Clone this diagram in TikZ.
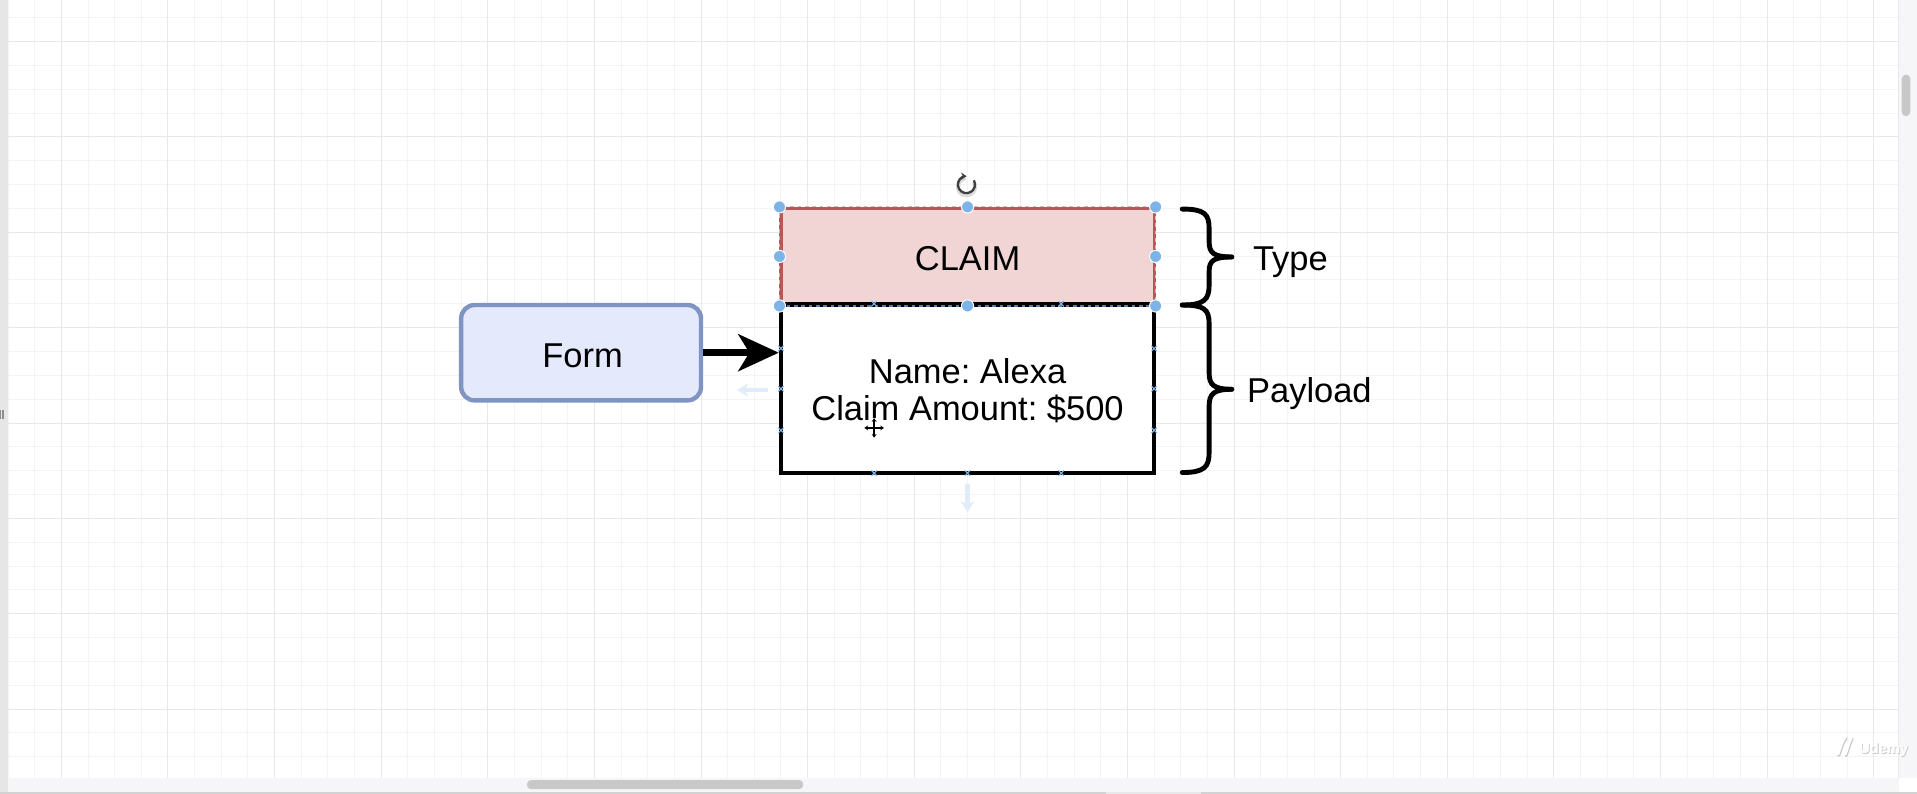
\documentclass[tikz,border=0pt]{standalone}
\usepackage{fontspec}
\setmainfont{Liberation Sans}
\usetikzlibrary{arrows.meta,calc}
\definecolor{gridminor}{HTML}{F4F4F5}
\definecolor{gridmajor}{HTML}{E8E8E9}
\definecolor{formfill}{HTML}{E4EAFB}
\definecolor{formline}{HTML}{8094C4}
\definecolor{claimfill}{HTML}{F0D5D4}
\definecolor{claimline}{HTML}{B35A57}
\definecolor{handle}{HTML}{7DB4E8}
\definecolor{hint}{HTML}{E0ECF9}
\definecolor{barbg}{HTML}{F6F6F8}
\definecolor{thumb}{HTML}{C8C8C8}
\definecolor{edge}{HTML}{E6E6E6}
\definecolor{barline}{HTML}{D2D2D2}
\pgfmathsetmacro\pxs{1917/1568}
\pgfmathsetmacro\pxw{1568/1917}
\tikzset{
  lbl/.style={font=\fontsize{28.2}{31}\selectfont\frenchspacing, inner sep=0pt, anchor=base},
  formbox/.style={draw=formline, fill=formfill, line width=3.6pt, rounded corners=11pt, minimum width=196.2pt, minimum height=78pt, inner sep=0pt},
  claimbox/.style={draw=claimline, fill=claimfill, line width=2.5pt, minimum width=305.2pt, minimum height=78.5pt, inner sep=0pt},
  paybox/.style={draw=black, fill=white, line width=3.6pt, minimum width=305.2pt, minimum height=138pt, inner sep=0pt},
  bracestyle/.style={line width=4pt, line cap=round},
  hdl/.style={fill=handle, draw=white, line width=0.8pt},
  cpt/.style={draw=handle, line width=0.9pt},
}
\begin{document}
\begin{tikzpicture}[x=1pt,y=-1pt]
\useasboundingbox (0,0) rectangle (1568,649.45);
\fill[white] (0,0) rectangle (1568,649.45);
% grid (snapped to output pixels)
\foreach \i in {0,...,70} {\pgfmathsetmacro\gx{(floor((6.6+21.8*\i)*\pxs)+0.5)*\pxw}\draw[gridminor, line width=\pxw pt] (\gx,0) -- (\gx,636);}
\foreach \j in {0,...,31} {\pgfmathsetmacro\gy{(floor((14.5+19.5*\j)*\pxs)+0.5)*\pxw}\draw[gridminor, line width=\pxw pt] (6.6,\gy) -- (1553,\gy);}
\foreach \i in {0,...,17} {\pgfmathsetmacro\gx{(floor((50.2+87.2*\i)*\pxs)+0.5)*\pxw}\draw[gridmajor, line width=\pxw pt] (\gx,0) -- (\gx,636);}
\foreach \j in {0,...,7} {\pgfmathsetmacro\gy{(floor((34+78*\j)*\pxs)+0.5)*\pxw}\draw[gridmajor, line width=\pxw pt] (6.6,\gy) -- (1553,\gy);}
% window chrome
\fill[edge] (0,0) rectangle (6.2,649.45);
\draw[black!45, line width=0.6pt] (0.7,335) -- (0.7,342.5) (1.9,335) -- (1.9,342.5) (3.1,335) -- (3.1,342.5);
\fill[barbg] (6.2,636) rectangle (1553,647.5);
\fill[thumb, rounded corners=3.5pt] (431,638) rectangle (657,645.5);
\fill[barline] (0,647.5) rectangle (905,649.45);
\fill[gridmajor] (905,647.5) rectangle (982,649.45);
\fill[barline] (982,647.5) rectangle (1568,649.45);
\fill[barbg] (1553,0) rectangle (1568,636);
\draw[gridmajor, line width=0.8pt] (1553,0) -- (1553,636);
\fill[thumb, rounded corners=3.5pt] (1555.5,61) rectangle (1562.5,95);
\fill[white] (1553.5,636.5) rectangle (1567,647.5);
% watermark
\node[text=black!22, font=\fontsize{12}{12}\selectfont\bfseries, anchor=base west] (udemysh) at (1518,617.5) {Udemy};
\node[text=white, font=\fontsize{12}{12}\selectfont\bfseries, anchor=base west] (udemy) at (1517.3,616.5) {Udemy};
\draw[black!22, line width=2.4pt, line cap=round] (1504,618) .. controls (1506,612) and (1508,606) .. (1510,604) (1510,618) .. controls (1512,612) and (1514,606) .. (1515,604);
\draw[white, line width=2pt, line cap=round] (1503.5,617) .. controls (1505.5,611) and (1507.5,605) .. (1509.5,603) (1509.5,617) .. controls (1511.5,611) and (1513.5,605) .. (1514.5,603);
% hint arrows
\coordinate (hl1) at (628,319); \coordinate (hl2) at (603,319);
\coordinate (hd1) at (791.4,396); \coordinate (hd2) at (791.4,419);
\draw[hint, line width=4pt, -{Stealth[length=9pt,width=11pt]}] (hl1) -- (hl2);
\draw[hint, line width=4pt, -{Stealth[length=9pt,width=11pt]}] (hd1) -- (hd2);
% nodes
\node[formbox] (form) at (475.3,288.5) {};
\node[claimbox] (claim) at (791.4,209.75) {};
\node[paybox] (payload) at (791.4,318) {};
\node[lbl] (formtxt) at (476.5,301) {Form};
\node[lbl] (claimtxt) at (791.4,221.5) {CLAIM};
\node[lbl] (line1) at (791.4,314) {Name: Alexa};
\node[lbl] (line2) at (791.4,343.6) {Claim Amount: \$500};
% connector
\draw[line width=6pt, -{Stealth[length=33pt,width=30pt,inset=9pt]}] (form.east) -- (form.east -| payload.west);
% selection overlays
\draw[black!30!handle, line width=1pt, dash pattern=on 3pt off 3pt] (claim.south west) -- (claim.south east);
\draw[claimline!45!white, line width=0.8pt, dash pattern=on 3pt off 3pt] (claim.south west) -- (claim.north west) -- (claim.north east) -- (claim.south east);
\foreach \p in {(715,248.5),(868,248.5),(638.8,285),(638.8,318),(638.8,352),(944,285),(944,318),(944,352),(715,387),(791.4,387),(868,387)} {
  \draw[cpt] \p ++(-2.2,-2.2) -- ++(4.4,4.4) \p ++(-2.2,2.2) -- ++(4.4,-4.4);
}
\foreach \a in {north west,north,north east,west,east,south west,south,south east} {
  \fill[hdl] (claim.\a) circle (5pt);
}
% rotate icon
\coordinate (rot) at (790.5,151);
\draw[black!14, line width=3.4pt] ($(rot)+(0,1.8)$) ++(-30:7) arc[start angle=-30, end angle=265, radius=7];
\draw[black!75, line width=1.9pt, -{Stealth[length=4pt,width=6pt]}] (rot) ++(-30:7) arc[start angle=-30, end angle=268, radius=7];
% move cursor
\coordinate (mv) at (715,350);
\draw[white, line width=3.5pt] ($(mv)+(-8,0)$) -- ($(mv)+(8,0)$) ($(mv)+(0,-8)$) -- ($(mv)+(0,8)$);
\draw[black, line width=1.2pt, {Stealth[length=3pt,width=4pt]}-{Stealth[length=3pt,width=4pt]}] ($(mv)+(-8,0)$) -- ($(mv)+(8,0)$);
\draw[black, line width=1.2pt, {Stealth[length=3pt,width=4pt]}-{Stealth[length=3pt,width=4pt]}] ($(mv)+(0,-8)$) -- ($(mv)+(0,8)$);
% braces
\coordinate (b1t) at (967,171); \coordinate (b1m) at (1007.5,210.2); \coordinate (b1b) at (967,249.5);
\coordinate (b2t) at (967,249.5); \coordinate (b2m) at (1007.5,318.4); \coordinate (b2b) at (967,386.5);
\draw[bracestyle] (b1t) .. controls (985,171) and (989,175) .. (989,187) -- (989,198) .. controls (989,207) and (993,210.2) .. (b1m);
\draw[bracestyle] (b1m) .. controls (993,210.2) and (989,213) .. (989,222) -- (989,233) .. controls (989,245) and (985,249.5) .. (b1b);
\draw[bracestyle] (b2t) .. controls (985,249.5) and (989,253) .. (989,265) -- (989,305) .. controls (989,315) and (993,318.4) .. (b2m);
\draw[bracestyle] (b2m) .. controls (993,318.4) and (989,322) .. (989,332) -- (989,370) .. controls (989,382) and (985,386.5) .. (b2b);
\node[lbl] (type) at (1055.5,221) {Type};
\node[lbl] (pl) at (1071,329.4) {Payload};
\end{tikzpicture}
\end{document}
